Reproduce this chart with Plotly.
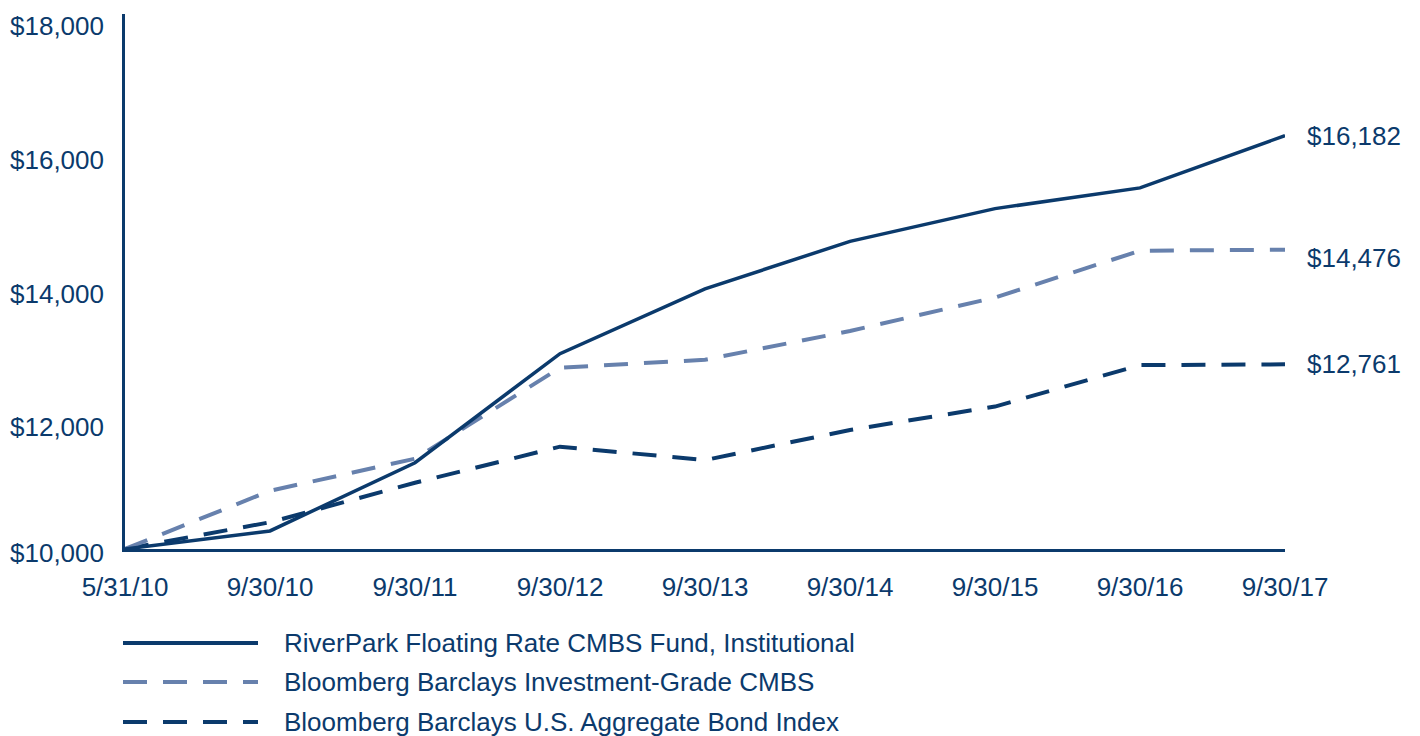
import plotly.graph_objects as go

dates = ["5/31/10", "9/30/10", "9/30/11", "9/30/12", "9/30/13", "9/30/14", "9/30/15", "9/30/16", "9/30/17"]
riverpark = [10000, 10270, 11290, 12920, 13890, 14600, 15090, 15400, 16182]
ig_cmbs = [10000, 10870, 11350, 12710, 12830, 13260, 13760, 14460, 14476]
us_agg = [10000, 10400, 10990, 11530, 11330, 11780, 12130, 12750, 12761]
series_names = [
    "RiverPark Floating Rate CMBS Fund, Institutional",
    "Bloomberg Barclays Investment-Grade CMBS",
    "Bloomberg Barclays U.S. Aggregate Bond Index",
]
end_labels = ["$16,182", "$14,476", "$12,761"]
y_ticks = [10000, 12000, 14000, 16000, 18000]
y_tick_text = ["$10,000", "$12,000", "$14,000", "$16,000", "$18,000"]

DARK = "#0b3a6c"
LIGHT = "#6781ad"
TEXT = "#0b3a6c"
FONT = "Liberation Sans, Arial, Helvetica, sans-serif"

# page has an 8px body margin: figure canvas starts at (8, 8)
OFF = 8
W, H = 1420 - OFF, 736 - OFF
L, R_EDGE, T, B_EDGE = 125 - OFF, 1285 - OFF, 14 - OFF, 549 - OFF
PW, PH = R_EDGE - L, B_EDGE - T

xs = list(range(len(dates)))
series = [riverpark, ig_cmbs, us_agg]
styles = [
    dict(color=DARK, width=3.5, dash="solid"),
    dict(color=LIGHT, width=4, dash="24px,16px"),
    dict(color=DARK, width=4, dash="24px,16px"),
]

fig = go.Figure()
for i in [2, 1, 0]:
    fig.add_trace(go.Scatter(x=xs, y=series[i], mode="lines", name=series_names[i],
                             line=styles[i], showlegend=False, hoverinfo="skip",
                             cliponaxis=False))

annotations = []
for v, t in zip(y_ticks, y_tick_text):
    annotations.append(dict(x=0, xref="paper", y=v, yref="y", text=t, showarrow=False,
                            xanchor="right", yanchor="middle", xshift=-19,
                            yshift=-4 if v == 10000 else -12,
                            font=dict(family=FONT, size=26, color=TEXT)))
end_shifts = [0, -8, 0]
for i, lab in enumerate(end_labels):
    annotations.append(dict(x=xs[-1], xref="x", y=series[i][-1], yref="y", text=lab,
                            showarrow=False, xanchor="left", yanchor="middle", xshift=20,
                            yshift=end_shifts[i],
                            font=dict(family=FONT, size=26, color=TEXT)))

shapes = []
legend_y = [643, 682, 722]
for i, name in enumerate(series_names):
    ypaper = (B_EDGE - (legend_y[i] - OFF)) / PH
    shapes.append(dict(type="line", xref="paper", yref="paper",
                       x0=(123 - 125) / PW, x1=(258 - 125) / PW, y0=ypaper, y1=ypaper,
                       line=dict(color=styles[i]["color"], width=4, dash=styles[i]["dash"])))
    annotations.append(dict(x=(282 - 125) / PW, xref="paper", y=ypaper, yref="paper",
                            text=name, showarrow=False, xanchor="left", yanchor="middle",
                            font=dict(family=FONT, size=26, color=TEXT)))

fig.update_layout(
    width=W, height=H,
    margin=dict(l=L, r=W - R_EDGE, t=T, b=H - B_EDGE),
    paper_bgcolor="white", plot_bgcolor="white",
    font=dict(family=FONT, size=26, color=TEXT),
    xaxis=dict(range=[0, 8], tickvals=xs, ticktext=dates, showgrid=False, zeroline=False,
               showline=True, linecolor=DARK, linewidth=3, ticks="", ticklabelstandoff=13,
               tickfont=dict(family=FONT, size=26, color=TEXT)),
    yaxis=dict(range=[10000, 18000], tickvals=y_ticks, showticklabels=False, showgrid=False,
               zeroline=False, showline=True, linecolor=DARK, linewidth=3, ticks=""),
    annotations=annotations,
    shapes=shapes,
    showlegend=False,
)

fig.write_html("out.html")
